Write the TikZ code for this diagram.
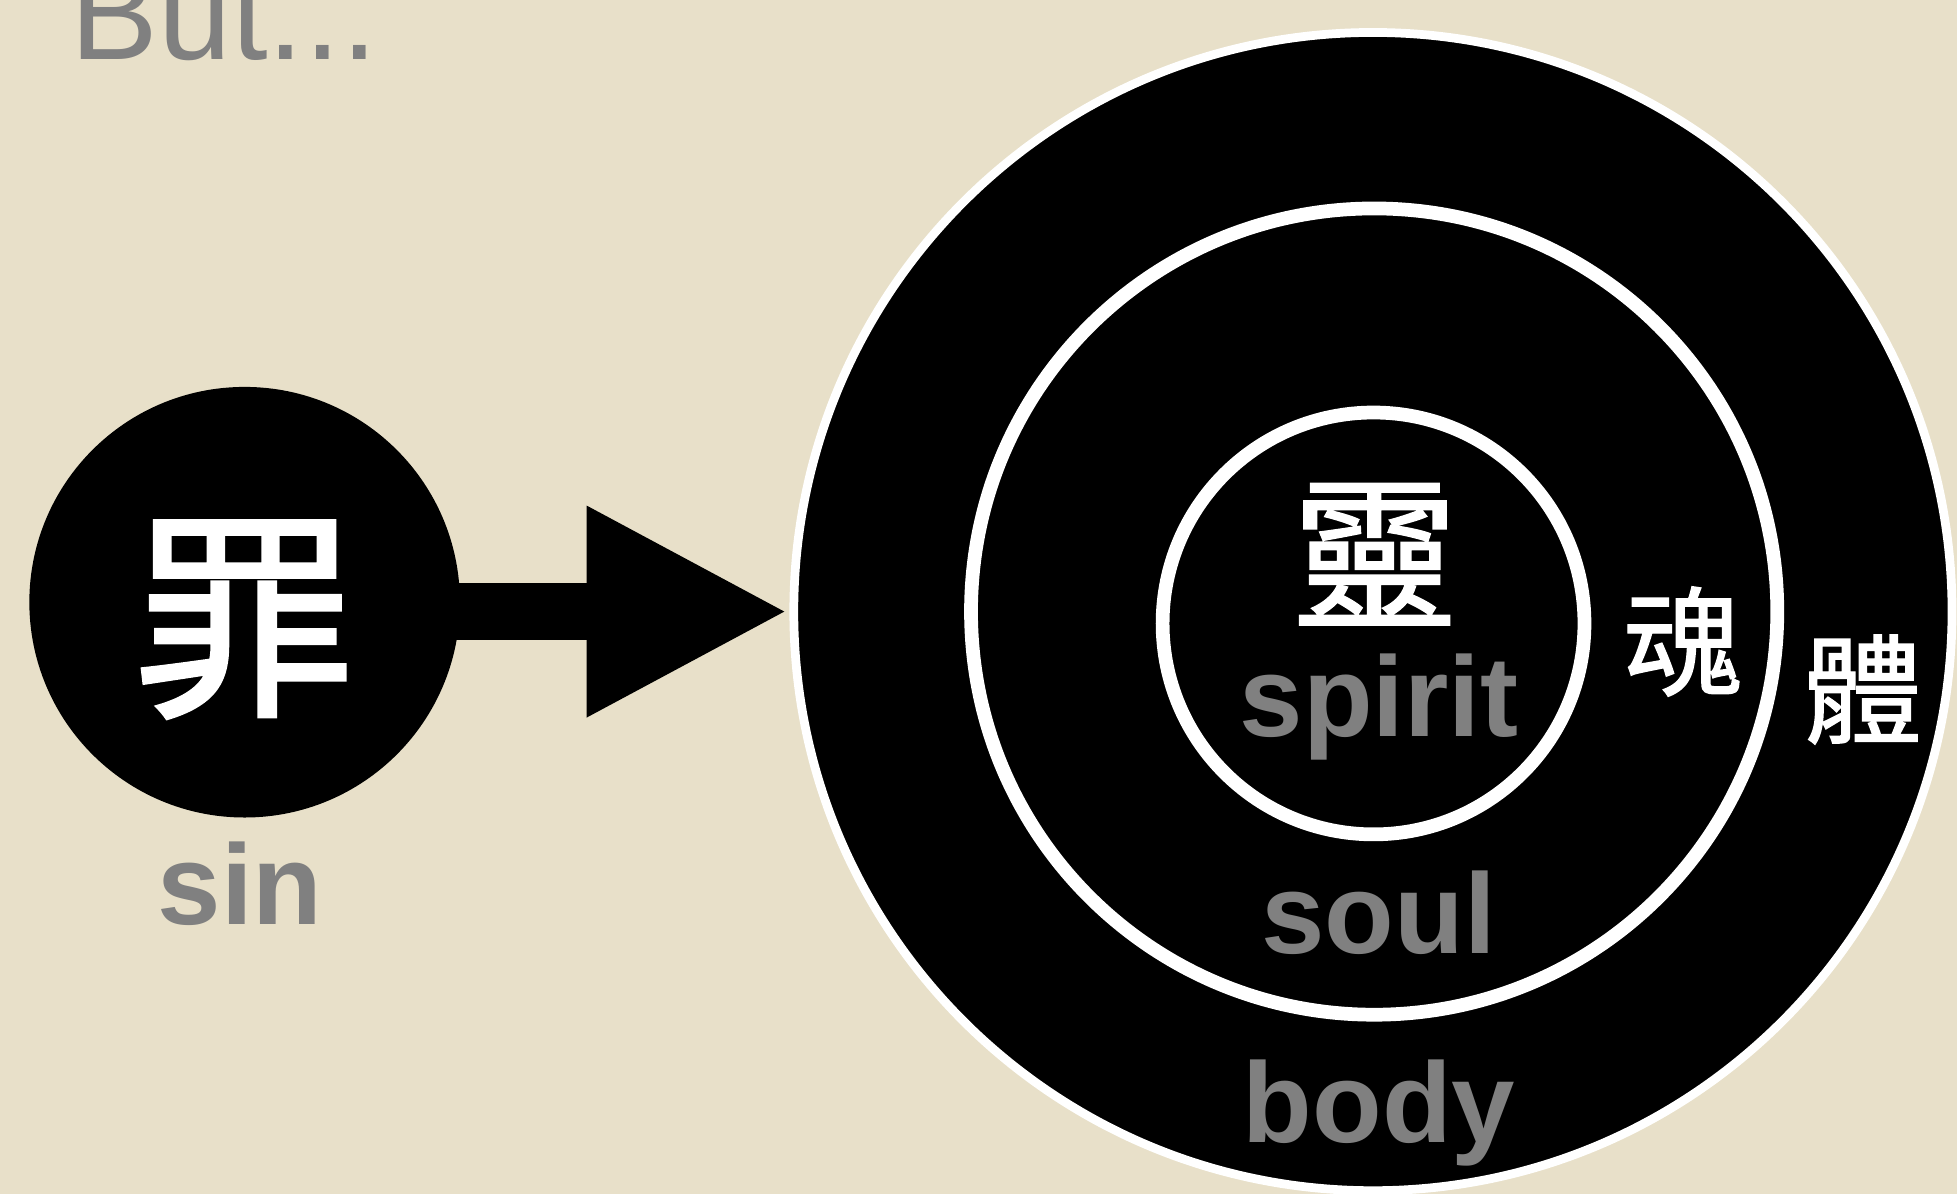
\documentclass[tikz,border=0pt]{standalone}
\usepackage{fontspec}
\setmainfont{Liberation Sans}
\newfontfamily\cjk[FakeBold=1.2]{Noto Sans CJK TC}
\usepackage{tikz}
\usetikzlibrary{arrows.meta}

\definecolor{parchment}{RGB}{232,224,201}
\definecolor{labelgray}{RGB}{128,128,128}

\begin{document}
\begin{tikzpicture}[thick,
		ring/.style={circle, fill=black, draw=white, inner sep=0pt, outer sep=0pt},
		en/.style={text=labelgray, inner sep=0pt, font=\bfseries\fontsize{26}{26}\selectfont},
		zh/.style={text=white, inner sep=0pt}]
	% ==================== 背景 ====================
	\fill[parchment] (0,0) rectangle (15.68,9.57);
	\useasboundingbox (0,0) rectangle (15.68,9.57);
	
	\node[anchor=base west, text=labelgray, inner sep=0pt, font=\fontsize{30}{30}\selectfont] (but) at (0.55,9.09) {But...};
	
	% ==================== 左图：罪 ====================
	\begin{scope}
		\node[ring, draw=none, minimum size=3.45cm] (zui) at (1.96,4.745) {};
		\node[zh, font=\cjk\fontsize{51}{51}\selectfont] (zuitext) at (1.95,4.605) {罪};
		\node[en, anchor=base] (sin) at (1.925,2.16) {sin};
	\end{scope}
	
	% ==================== 右图：靈魂體 ====================
	\begin{scope}
		% 三个同心圆 (體、魂、靈)
		\node[ring, line width=0.07cm, minimum size=9.28cm] (body) at (11.0,4.67) {};
		\node[ring, line width=0.11cm, minimum size=6.46cm] (soul) at (11.01,4.67) {};
		\node[ring, line width=0.11cm, minimum size=3.38cm] (spirit) at (11.005,4.575) {};
		
		% 中文标注
		\node[zh, font=\cjk\fontsize{38}{38}\selectfont] (ling) at (11.015,5.13) {靈};
		\node[zh, font=\cjk\fontsize{27}{27}\selectfont] (hun) at (13.48,4.43) {魂};
		\node[zh, font=\cjk\fontsize{27}{27}\selectfont] (ti) at (14.925,4.045) {體};
		
		% 英文标注
		\node[en, anchor=base] (spirittext) at (11.05,3.67) {spirit};
		\node[en, anchor=base] (soultext) at (11.045,1.93) {soul};
		\node[en, anchor=base] (bodytext) at (11.05,0.42) {body};
	\end{scope}
	
	% 箭头 (罪 -> 人)
	\draw[line width=0.46cm, -{Triangle[length=1.62cm, width=1.57cm]}] ([xshift=-2pt]zui.east |- body.west) -- ([xshift=-0.04cm]body.west);
\end{tikzpicture}
\end{document}
